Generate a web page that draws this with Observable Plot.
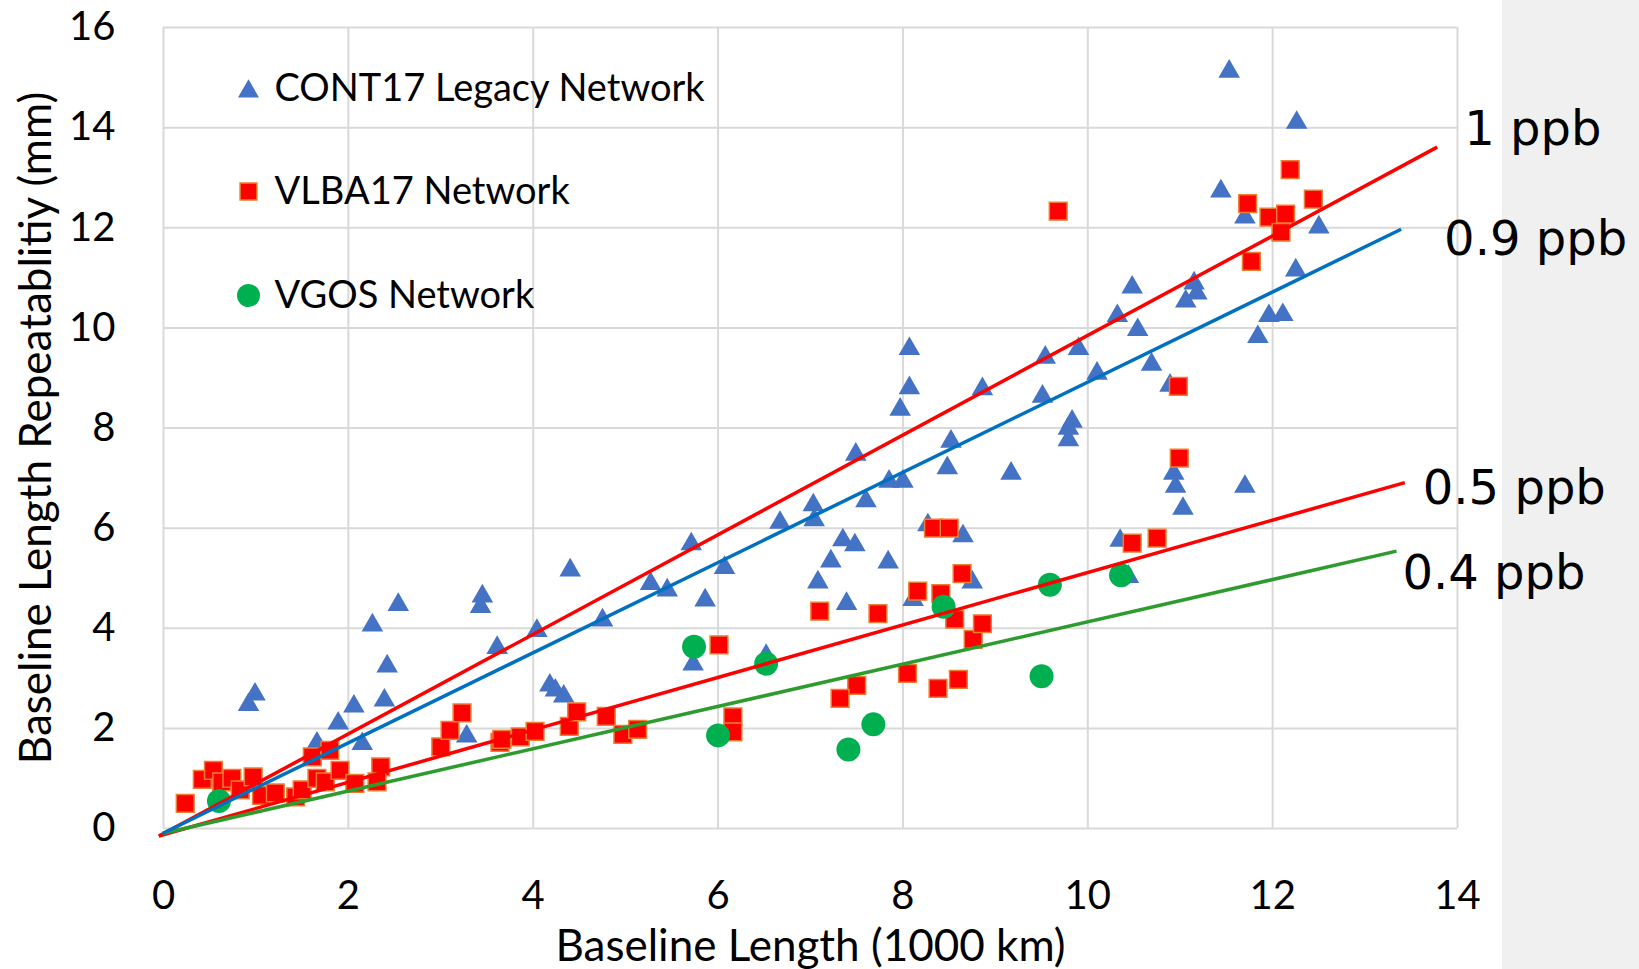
<!DOCTYPE html>
<html><head><meta charset="utf-8">
<script src="https://cdn.jsdelivr.net/npm/d3@7"></script>
<script src="https://cdn.jsdelivr.net/npm/@observablehq/plot@0.6"></script>
<style>
html,body{margin:0;padding:0;background:#fff;}
#chart{width:1639px;height:969px;background:linear-gradient(to right,#fff 0,#fff 1502px,#f0f0f0 1502px);}
</style></head><body><div id="chart"></div>
<script>
// ---- data ----
const cont17 = [
 [0.92,2.53],[0.99,2.74],[1.66,1.76],[1.89,2.16],[2.06,2.50],[2.15,1.75],[2.26,4.12],[2.39,2.62],[2.42,3.30],[2.54,4.53],
 [3.43,4.49],[3.45,4.70],[3.61,3.67],[3.28,1.90],[4.04,4.01],[4.40,5.22],[4.18,2.92],[4.24,2.82],[4.33,2.70],[4.75,4.22],
 [5.27,4.95],[5.45,4.82],[5.71,5.74],[5.73,3.34],[5.86,4.62],[6.07,5.27],[6.52,3.51],[6.67,6.17],[7.03,6.52],[7.04,6.22],
 [7.60,6.60],[7.49,7.53],[7.85,6.99],[8.00,6.99],[7.35,5.82],[7.48,5.72],[7.22,5.40],[7.08,4.98],[7.39,4.55],[7.84,5.38],
 [8.07,9.64],[8.07,8.86],[7.97,8.43],[9.54,9.47],[9.90,9.64],[8.86,8.84],[9.51,8.69],[10.10,9.15],[10.69,9.33],[10.89,8.91],
 [8.52,7.79],[8.48,7.26],[9.17,7.15],[9.83,8.19],[9.79,8.05],[9.79,7.82],[10.93,7.15],[10.95,6.89],[11.03,6.45],[8.27,6.12],
 [8.65,5.90],[8.11,4.63],[8.75,4.98],[10.35,5.81],[10.44,5.09],[10.32,10.30],[10.54,10.02],[11.53,15.18],[12.26,14.16],[11.44,12.79],
 [11.70,12.27],[12.50,12.07],[12.25,11.21],[10.48,10.87],[11.15,10.95],[11.18,10.75],[11.06,10.59],[11.96,10.30],[12.11,10.32],[11.84,9.88],
 [11.70,6.89]
];
const vlba17 = [
 [0.235,0.50],[0.42,0.98],[0.54,1.16],[0.63,0.93],[0.74,1.00],[0.83,0.77],[0.97,1.03],[1.06,0.66],[1.21,0.71],[1.43,0.63],
 [1.50,0.77],[1.61,1.43],[1.80,1.56],[1.66,1.00],[1.75,0.93],[1.91,1.16],[2.07,0.90],[2.35,1.23],[2.31,0.93],[3.00,1.63],
 [3.10,1.96],[3.23,2.31],[3.64,1.72],[3.66,1.78],[3.86,1.83],[4.02,1.94],[4.39,2.04],[4.47,2.33],[4.79,2.24],[4.97,1.88],
 [5.13,1.98],[6.01,3.67],[6.16,2.23],[6.16,1.93],[7.10,4.34],[7.73,4.29],[7.50,2.86],[7.32,2.60],[8.05,3.10],[8.38,2.80],
 [8.60,2.98],[8.76,3.78],[8.86,4.09],[8.56,4.18],[8.41,4.69],[8.16,4.74],[8.64,5.09],[8.33,6.00],[8.50,6.00],[10.48,5.70],
 [10.75,5.80],[10.98,8.83],[10.99,7.40],[9.68,12.33],[12.19,13.16],[11.73,12.48],[12.44,12.57],[11.96,12.21],[12.14,12.27],[12.09,11.91],
 [11.77,11.33]
];
const vgos = [
 [0.60,0.55],[5.74,3.63],[6.52,3.29],[6.00,1.86],[7.41,1.58],[7.68,2.08],[8.44,4.43],[9.59,4.87],[10.36,5.06],[9.50,3.04]
];
const seriesNames = ["CONT17 Legacy Network", "VLBA17 Network", "VGOS Network"];
const ppbNames  = ["1 ppb", "0.9 ppb", "0.5 ppb", "0.4 ppb"];
const ppbStartX = [-0.05, -0.01, -0.05, -0.01];
const ppbStartY = [-0.15, -0.10, -0.15, -0.10];
const ppbEndX   = [13.78, 13.39, 13.43, 13.34];
const ppbEndY   = [13.61, 11.97, 6.91, 5.54];
const xTicks = [0, 2, 4, 6, 8, 10, 12, 14];
const yTicks = [0, 2, 4, 6, 8, 10, 12, 14, 16];
const xTitle = "Baseline Length (1000 km)";
const yTitle = "Baseline Length Repeatablitiy (mm)";

// ---- styles ----
const ppbStyle = [
  {stroke: "#ff0000", dx: 27, dy: -18},
  {stroke: "#0070c0", dx: 43, dy: 10},
  {stroke: "#ff0000", dx: 18, dy: 6},
  {stroke: "#2e9b2e", dx: 6, dy: 22}
];
const lines = ppbNames.map((name, i) => ({name, x1: ppbStartX[i], y1: ppbStartY[i], x2: ppbEndX[i], y2: ppbEndY[i], ...ppbStyle[i]}));
const drawOrder = [0, 2, 3, 1];
const gridColor = "#d9d9d9";
const font = "Lato, 'Open Sans', sans-serif";
const fmt = d => String(d);

const marks = [
  Plot.gridX(xTicks, {stroke: gridColor, strokeOpacity: 1, strokeWidth: 2}),
  Plot.gridY(yTicks, {stroke: gridColor, strokeOpacity: 1, strokeWidth: 2}),
  Plot.axisX(xTicks, {tickSize: 0, tickPadding: 52, fontSize: 40, label: null, fill: "#000", tickFormat: fmt}),
  Plot.axisY(yTicks, {tickSize: 0, tickPadding: 48, fontSize: 40, label: null, fill: "#000", tickFormat: fmt}),
  Plot.dot(cont17, {x: d => d[0], y: d => d[1], symbol: "triangle", r: 8, fill: "#4472c4", dy: 3}),
  Plot.dot(vlba17, {x: d => d[0], y: d => d[1], symbol: "square", r: 10, fill: "#ff0000", stroke: "#ed7d31", strokeWidth: 1.5}),
  Plot.dot(vgos, {x: d => d[0], y: d => d[1], symbol: "circle", r: 12, fill: "#00b050"}),
];
for (const i of drawOrder) {
  const l = lines[i];
  marks.push(Plot.link([l], {x1: "x1", y1: "y1", x2: "x2", y2: "y2", stroke: l.stroke, strokeWidth: 3.5, clip: false}));
}
for (const l of lines) {
  marks.push(Plot.text([l], {x: "x2", y: "y2", text: "name", dx: l.dx, dy: l.dy, textAnchor: "start", lineAnchor: "middle",
    fontSize: 48, fontFamily: "'DejaVu Sans', sans-serif", fill: "#000", clip: false}));
}
// legend inside the frame
const legendSym = [
  {symbol: "triangle", r: 7.8, fill: "#4472c4", stroke: "none", dy: 64},
  {symbol: "square", r: 9.5, fill: "#ff0000", stroke: "#ed7d31", dy: 164},
  {symbol: "circle", r: 11.5, fill: "#00b050", stroke: "none", dy: 268}
];
seriesNames.forEach((name, i) => {
  const s = legendSym[i];
  marks.push(Plot.dot([name], {frameAnchor: "top-left", dx: 85, dy: s.dy, symbol: s.symbol, r: s.r, fill: s.fill, stroke: s.stroke, strokeWidth: 1.5}));
  marks.push(Plot.text([name], {frameAnchor: "top-left", dx: 111, dy: legendSym[i].dy - (i === 0 ? 3 : 0), text: d => d, textAnchor: "start", lineAnchor: "middle", fontSize: 38, fill: "#000"}));
});
marks.push(Plot.text([xTitle], {frameAnchor: "bottom", dy: 118, text: d => d, textAnchor: "middle", lineAnchor: "middle", fontSize: 44, fill: "#000"}));
marks.push(Plot.text([yTitle], {frameAnchor: "left", dx: -127, rotate: -90, text: d => d, textAnchor: "middle", lineAnchor: "middle", fontSize: 44, fill: "#000"}));

const chart = Plot.plot({
  width: 1639, height: 969,
  marginLeft: 163, marginRight: 182, marginTop: 27, marginBottom: 141,
  x: {domain: [0, 14], ticks: xTicks},
  y: {domain: [0, 16], ticks: yTicks},
  style: {background: "transparent", fontFamily: font, overflow: "visible"},
  marks
});
document.getElementById("chart").appendChild(chart);
</script></body></html>
